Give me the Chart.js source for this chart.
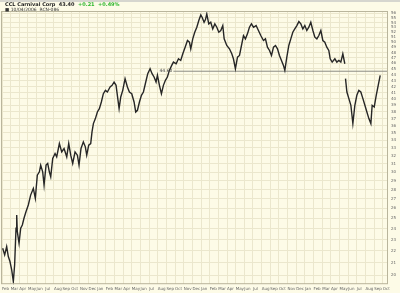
<!DOCTYPE html>
<html>
<head>
<meta charset="utf-8">
<script src="https://cdn.jsdelivr.net/npm/chart.js@4.4.0/dist/chart.umd.min.js"></script>
<style>
  html, body { margin: 0; padding: 0; background: #fdfbe7; }
  #wrap { width: 400px; height: 293px; position: relative; }
</style>
</head>
<body>
<div id="wrap"><canvas id="priceChart" width="400" height="293"></canvas></div>
<script>
// time is in months counted from 1 Feb 2003
var monthLabels = ['Feb','Mar','Apr','May','Jun','Jul','Aug','Sep','Oct','Nov','Dec',
  'Jan','Feb','Mar','Apr','May','Jun','Jul','Aug','Sep','Oct','Nov','Dec',
  'Jan','Feb','Mar','Apr','May','Jun','Jul','Aug','Sep','Oct','Nov','Dec',
  'Jan','Feb','Mar','Apr','May','Jun','Jul','Aug','Sep','Oct'];

var priceTicks = [20,21,22,23,24,25,26,27,28,29,30,31,32,33,34,35,36,37,38,39,40,
  41,42,43,44,45,46,47,48,49,50,51,52,53,54,55,56];

var times = [0.08,0.31,0.54,0.73,0.92,1.12,1.31,1.46,1.62,1.70,1.77,1.97,2.16,2.35,2.54,2.77,
  3.04,3.31,3.62,3.85,4.08,4.32,4.47,4.70,4.86,5.09,5.28,5.47,5.63,5.86,6.13,6.32,6.63,6.90,
  7.17,7.48,7.71,7.94,8.17,8.44,8.71,8.90,9.13,9.40,9.63,9.79,10.02,10.25,10.40,10.56,10.79,
  11.02,11.25,11.48,11.71,11.95,12.18,12.49,12.72,12.95,13.18,13.33,13.53,13.72,13.95,14.22,
  14.49,14.72,14.99,15.26,15.45,15.65,15.88,16.11,16.34,16.61,16.84,17.11,17.34,17.57,17.80,
  17.96,18.19,18.42,18.65,18.88,19.11,19.34,19.61,19.81,20.12,20.39,20.65,20.89,21.16,21.43,
  21.66,21.81,22.04,22.27,22.51,22.74,22.97,23.12,23.35,23.51,23.66,23.89,24.12,24.35,24.59,
  24.82,25.05,25.28,25.51,25.67,25.97,26.28,26.55,26.74,26.97,27.21,27.44,27.67,27.90,28.13,
  28.36,28.59,28.82,29.06,29.36,29.63,29.90,30.21,30.44,30.67,30.91,31.14,31.37,31.60,31.83,
  32.06,32.29,32.52,32.68,32.91,33.14,33.37,33.60,33.83,34.07,34.30,34.53,34.76,34.99,35.22,
  35.45,35.68,35.92,36.15,36.38,36.61,36.84,37.07,37.30,37.53,37.76,37.92,38.15,38.46,38.69,
  38.92,39.15,39.38,39.61,39.65,39.69,39.85,40.08,40.31,40.54,40.77,41.00,41.23,41.46,41.70,
  41.93,42.16,42.39,42.62,42.77,43.01,43.24,43.47,43.70];

var closes = [22.23,21.66,22.38,21.52,21.10,20.42,19.51,20.83,24.05,25.34,23.73,22.67,24.05,24.36,25.01,25.67,
  26.35,27.40,28.13,27.05,29.64,30.03,30.83,30.03,28.50,30.83,31.03,30.03,29.45,31.64,32.27,31.85,33.56,32.48,
  32.91,31.85,33.56,32.06,31.03,32.48,32.06,30.83,32.91,33.78,33.13,32.06,33.34,33.56,35.13,36.30,37.02,
  38.00,38.50,39.52,40.83,41.37,41.10,41.92,42.19,42.75,42.19,40.57,38.50,40.30,41.37,43.31,
  41.92,41.10,40.83,39.52,38.00,38.25,39.52,40.57,41.10,42.75,44.17,45.05,44.17,43.60,42.75,
  43.88,42.19,40.83,42.19,43.03,43.60,44.75,45.63,46.23,45.93,46.84,46.53,47.76,49.03,50.33,
  50.00,48.71,50.66,52.00,53.03,54.44,55.66,55.16,54.08,54.65,55.88,53.73,54.08,52.68,53.73,
  53.03,52.00,52.34,53.38,50.66,49.35,48.71,47.76,46.84,45.05,47.14,47.45,49.35,51.32,50.66,
  51.66,53.03,53.73,53.03,53.38,52.34,51.32,50.33,50.66,49.03,48.39,47.45,49.03,49.35,48.71,
  47.45,46.53,45.63,44.75,47.14,49.35,50.66,52.00,52.68,53.38,54.22,53.73,52.68,53.38,52.34,
  53.03,54.08,52.34,50.99,50.66,51.32,52.34,50.33,50.00,49.03,48.39,46.84,46.23,46.84,46.23,
  46.53,46.23,47.76,45.93,null,43.31,41.10,40.04,39.01,36.30,39.01,40.57,41.37,41.10,40.04,
  39.01,38.00,37.02,36.30,39.01,38.75,40.57,42.19,43.88];

var supportLevel = 44.6;
var supportStart = 19.8;
var supportLabel = '44.60';

var titleName = 'CCL Carnival Corp';
var titlePrice = '43.40';
var titleChange = '+0.21  +0.49%';
var subTitle = '\u25A0 10/04/2006  RCN-086';

var xMax = 44.6;

var points = [];
for (var i = 0; i < times.length; i++) {
  points.push({x: times[i], y: closes[i]});
}
var monthTicks = [];
for (var m = 0; m < monthLabels.length; m++) monthTicks.push(m);

var decorPlugin = {
  id: 'decor',
  beforeDraw: function(chart) {
    var c = chart.ctx;
    c.save();
    c.fillStyle = '#fdfbe7';
    c.fillRect(0, 0, chart.width, chart.height);
    c.fillStyle = '#d6d6cf';
    c.fillRect(0, 0, chart.width, 2);
    c.restore();
  },
  afterDraw: function(chart) {
    var c = chart.ctx, a = chart.chartArea;
    var xs = chart.scales.x, ys = chart.scales.y;
    c.save();
    c.strokeStyle = '#b9b59c';
    c.lineWidth = 1;
    c.strokeRect(a.left - 0.5, a.top - 0.5, a.right - a.left, a.bottom - a.top);

    c.font = 'bold 5px "DejaVu Sans", sans-serif';
    c.textBaseline = 'middle';
    c.fillStyle = '#222';
    c.fillText(titleName, 5, 5);
    var w = c.measureText(titleName + '  ').width;
    c.fillText(titlePrice, 5 + w, 5);
    w += c.measureText(titlePrice + '  ').width;
    c.fillStyle = '#2db52d';
    c.fillText(titleChange, 5 + w, 5);
    c.font = '4.5px "DejaVu Sans", sans-serif';
    c.fillStyle = '#333';
    c.fillText(subTitle, 5, 9.5);

    c.font = '4.5px "DejaVu Sans", sans-serif';
    c.textAlign = 'right';
    c.fillStyle = '#444';
    c.fillText(supportLabel, xs.getPixelForValue(supportStart) - 1, ys.getPixelForValue(supportLevel));
    c.restore();
  }
};

new Chart(document.getElementById('priceChart'), {
  type: 'line',
  data: {
    datasets: [
      {
        data: points,
        borderColor: '#262626',
        borderWidth: 1.4,
        pointRadius: 0,
        tension: 0,
        spanGaps: false
      },
      {
        data: [{x: supportStart, y: supportLevel}, {x: xMax, y: supportLevel}],
        borderColor: '#8c8c86',
        borderWidth: 1,
        pointRadius: 0
      }
    ]
  },
  options: {
    responsive: false,
    animation: false,
    layout: { padding: { top: 12, left: 2, right: 0, bottom: 0 } },
    plugins: { legend: { display: false }, tooltip: { enabled: false } },
    scales: {
      x: {
        type: 'linear',
        min: 0,
        max: xMax,
        afterBuildTicks: function(s) { s.ticks = monthTicks.map(function(v) { return {value: v}; }); },
        ticks: {
          autoSkip: false,
          maxRotation: 0,
          align: 'start',
          padding: 2,
          color: '#666',
          font: { size: 4, family: '"DejaVu Sans", sans-serif' },
          callback: function(v) { return monthLabels[v]; }
        },
        grid: { color: '#ebe7cd', drawTicks: false },
        border: { display: false }
      },
      y: {
        type: 'logarithmic',
        position: 'right',
        min: 19.3,
        max: 56.3,
        afterBuildTicks: function(s) { s.ticks = priceTicks.map(function(v) { return {value: v}; }); },
        afterFit: function(s) { s.width = 12; },
        ticks: {
          autoSkip: false,
          padding: 3,
          color: '#666',
          font: { size: 4, family: '"DejaVu Sans", sans-serif' },
          callback: function(v) { return String(v); }
        },
        grid: { color: '#ebe7cd', drawTicks: false },
        border: { display: false }
      }
    }
  },
  plugins: [decorPlugin]
});
</script>
</body>
</html>
